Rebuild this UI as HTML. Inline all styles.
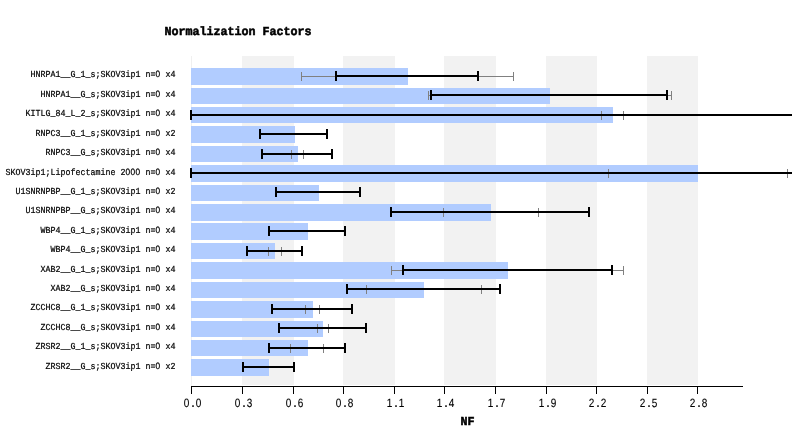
<!DOCTYPE html>
<html><head><meta charset="utf-8"><title>Normalization Factors</title>
<style>
html,body{margin:0;padding:0;background:#fff}
body{width:792px;height:446px;overflow:hidden}
svg{display:block;will-change:transform}
text{text-rendering:geometricPrecision;stroke:#000;stroke-width:0.2px;font-family:"Liberation Mono","DejaVu Sans Mono",monospace;fill:#000;white-space:pre}
.k{font-family:"Liberation Sans","DejaVu Sans",sans-serif;stroke-width:0.1px}
.m{font-family:"Liberation Mono","DejaVu Sans Mono",monospace;font-weight:bold}
.z{font-family:"Liberation Sans","DejaVu Sans",sans-serif}
.t{font-weight:bold;stroke-width:0.55px}
</style></head><body>
<svg width="792" height="446" viewBox="0 0 792 446">
<rect x="0" y="0" width="792" height="446" fill="#fff"/>
<g shape-rendering="crispEdges">
<rect x="242" y="56" width="52" height="329" fill="#f2f2f2"/>
<rect x="343" y="56" width="52" height="329" fill="#f2f2f2"/>
<rect x="444" y="56" width="52" height="329" fill="#f2f2f2"/>
<rect x="546" y="56" width="51" height="329" fill="#f2f2f2"/>
<rect x="647" y="56" width="51" height="329" fill="#f2f2f2"/>
<rect x="191" y="56" width="1" height="330" fill="#f0f0f0"/>
<rect x="191" y="68" width="217" height="17" fill="#b1ccff"/>
<rect x="191" y="88" width="359" height="16" fill="#b1ccff"/>
<rect x="191" y="107" width="422" height="16" fill="#b1ccff"/>
<rect x="191" y="126" width="104" height="17" fill="#b1ccff"/>
<rect x="191" y="146" width="107" height="16" fill="#b1ccff"/>
<rect x="191" y="165" width="507" height="17" fill="#b1ccff"/>
<rect x="191" y="185" width="128" height="16" fill="#b1ccff"/>
<rect x="191" y="204" width="300" height="17" fill="#b1ccff"/>
<rect x="191" y="223" width="117" height="17" fill="#b1ccff"/>
<rect x="191" y="243" width="84" height="16" fill="#b1ccff"/>
<rect x="191" y="262" width="317" height="17" fill="#b1ccff"/>
<rect x="191" y="282" width="233" height="16" fill="#b1ccff"/>
<rect x="191" y="301" width="122" height="17" fill="#b1ccff"/>
<rect x="191" y="321" width="132" height="16" fill="#b1ccff"/>
<rect x="191" y="340" width="117" height="16" fill="#b1ccff"/>
<rect x="191" y="359" width="78" height="17" fill="#b1ccff"/>
<rect x="301" y="76" width="213" height="1" fill="#808080"/><rect x="301" y="72" width="1" height="9" fill="#808080"/><rect x="513" y="72" width="1" height="9" fill="#808080"/>
<rect x="428" y="95" width="244" height="1" fill="#808080"/><rect x="428" y="91" width="1" height="9" fill="#808080"/><rect x="671" y="91" width="1" height="9" fill="#808080"/>
<rect x="601" y="115" width="23" height="1" fill="#808080"/><rect x="601" y="111" width="1" height="9" fill="#808080"/><rect x="623" y="111" width="1" height="9" fill="#808080"/>
<rect x="291" y="154" width="13" height="1" fill="#808080"/><rect x="291" y="150" width="1" height="9" fill="#808080"/><rect x="303" y="150" width="1" height="9" fill="#808080"/>
<rect x="608" y="173" width="180" height="1" fill="#808080"/><rect x="608" y="169" width="1" height="9" fill="#808080"/><rect x="787" y="169" width="1" height="9" fill="#808080"/>
<rect x="443" y="212" width="96" height="1" fill="#808080"/><rect x="443" y="208" width="1" height="9" fill="#808080"/><rect x="538" y="208" width="1" height="9" fill="#808080"/>
<rect x="268" y="251" width="14" height="1" fill="#808080"/><rect x="268" y="247" width="1" height="9" fill="#808080"/><rect x="281" y="247" width="1" height="9" fill="#808080"/>
<rect x="391" y="270" width="233" height="1" fill="#808080"/><rect x="391" y="266" width="1" height="9" fill="#808080"/><rect x="623" y="266" width="1" height="9" fill="#808080"/>
<rect x="366" y="289" width="116" height="1" fill="#808080"/><rect x="366" y="285" width="1" height="9" fill="#808080"/><rect x="481" y="285" width="1" height="9" fill="#808080"/>
<rect x="305" y="309" width="15" height="1" fill="#808080"/><rect x="305" y="305" width="1" height="9" fill="#808080"/><rect x="319" y="305" width="1" height="9" fill="#808080"/>
<rect x="317" y="328" width="12" height="1" fill="#808080"/><rect x="317" y="324" width="1" height="9" fill="#808080"/><rect x="328" y="324" width="1" height="9" fill="#808080"/>
<rect x="290" y="348" width="34" height="1" fill="#808080"/><rect x="290" y="344" width="1" height="9" fill="#808080"/><rect x="323" y="344" width="1" height="9" fill="#808080"/>
<rect x="335" y="75" width="144" height="2" fill="#000"/><rect x="335" y="71" width="2" height="10" fill="#000"/><rect x="477" y="71" width="2" height="10" fill="#000"/>
<rect x="430" y="94" width="238" height="2" fill="#000"/><rect x="430" y="90" width="2" height="10" fill="#000"/><rect x="666" y="90" width="2" height="10" fill="#000"/>
<rect x="190" y="114" width="602" height="2" fill="#000"/><rect x="190" y="110" width="2" height="10" fill="#000"/>
<rect x="259" y="133" width="69" height="2" fill="#000"/><rect x="259" y="129" width="2" height="10" fill="#000"/><rect x="326" y="129" width="2" height="10" fill="#000"/>
<rect x="261" y="153" width="72" height="2" fill="#000"/><rect x="261" y="149" width="2" height="10" fill="#000"/><rect x="331" y="149" width="2" height="10" fill="#000"/>
<rect x="190" y="172" width="602" height="2" fill="#000"/><rect x="190" y="168" width="2" height="10" fill="#000"/>
<rect x="275" y="191" width="86" height="2" fill="#000"/><rect x="275" y="187" width="2" height="10" fill="#000"/><rect x="359" y="187" width="2" height="10" fill="#000"/>
<rect x="390" y="211" width="200" height="2" fill="#000"/><rect x="390" y="207" width="2" height="10" fill="#000"/><rect x="588" y="207" width="2" height="10" fill="#000"/>
<rect x="268" y="230" width="78" height="2" fill="#000"/><rect x="268" y="226" width="2" height="10" fill="#000"/><rect x="344" y="226" width="2" height="10" fill="#000"/>
<rect x="246" y="250" width="57" height="2" fill="#000"/><rect x="246" y="246" width="2" height="10" fill="#000"/><rect x="301" y="246" width="2" height="10" fill="#000"/>
<rect x="402" y="269" width="211" height="2" fill="#000"/><rect x="402" y="265" width="2" height="10" fill="#000"/><rect x="611" y="265" width="2" height="10" fill="#000"/>
<rect x="346" y="288" width="155" height="2" fill="#000"/><rect x="346" y="284" width="2" height="10" fill="#000"/><rect x="499" y="284" width="2" height="10" fill="#000"/>
<rect x="271" y="308" width="82" height="2" fill="#000"/><rect x="271" y="304" width="2" height="10" fill="#000"/><rect x="351" y="304" width="2" height="10" fill="#000"/>
<rect x="278" y="327" width="89" height="2" fill="#000"/><rect x="278" y="323" width="2" height="10" fill="#000"/><rect x="365" y="323" width="2" height="10" fill="#000"/>
<rect x="268" y="347" width="78" height="2" fill="#000"/><rect x="268" y="343" width="2" height="10" fill="#000"/><rect x="344" y="343" width="2" height="10" fill="#000"/>
<rect x="242" y="366" width="53" height="2" fill="#000"/><rect x="242" y="362" width="2" height="10" fill="#000"/><rect x="293" y="362" width="2" height="10" fill="#000"/>
<rect x="191" y="386" width="552" height="1" fill="#000"/>
<rect x="191" y="386" width="1" height="8" fill="#000"/><rect x="242" y="386" width="1" height="8" fill="#000"/><rect x="293" y="386" width="1" height="8" fill="#000"/><rect x="343" y="386" width="1" height="8" fill="#000"/><rect x="394" y="386" width="1" height="8" fill="#000"/><rect x="444" y="386" width="1" height="8" fill="#000"/><rect x="495" y="386" width="1" height="8" fill="#000"/><rect x="546" y="386" width="1" height="8" fill="#000"/><rect x="596" y="386" width="1" height="8" fill="#000"/><rect x="647" y="386" width="1" height="8" fill="#000"/><rect x="697" y="386" width="1" height="8" fill="#000"/>
</g>
<text class="t" transform="translate(164.5,35) scale(0.9722,1.0)" font-size="12">Normalization Factors</text>
<text class="t" transform="translate(460.5,425) scale(0.9722,1.0)" font-size="12">NF</text>
<text class="k" transform="translate(183.5,407) scale(1,1.2)" font-size="10"><tspan x="0.2">0</tspan><tspan class="m" x="6.6">.</tspan><tspan x="12.2">0</tspan></text><text class="k" transform="translate(234.5,407) scale(1,1.2)" font-size="10"><tspan x="0.2">0</tspan><tspan class="m" x="6.6">.</tspan><tspan x="12.2">3</tspan></text><text class="k" transform="translate(285.5,407) scale(1,1.2)" font-size="10"><tspan x="0.2">0</tspan><tspan class="m" x="6.6">.</tspan><tspan x="12.2">6</tspan></text><text class="k" transform="translate(335.5,407) scale(1,1.2)" font-size="10"><tspan x="0.2">0</tspan><tspan class="m" x="6.6">.</tspan><tspan x="12.2">8</tspan></text><text class="k" transform="translate(386.5,407) scale(1,1.2)" font-size="10"><tspan x="0.2">1</tspan><tspan class="m" x="6.6">.</tspan><tspan x="12.2">1</tspan></text><text class="k" transform="translate(436.5,407) scale(1,1.2)" font-size="10"><tspan x="0.2">1</tspan><tspan class="m" x="6.6">.</tspan><tspan x="12.2">4</tspan></text><text class="k" transform="translate(487.5,407) scale(1,1.2)" font-size="10"><tspan x="0.2">1</tspan><tspan class="m" x="6.6">.</tspan><tspan x="12.2">7</tspan></text><text class="k" transform="translate(538.5,407) scale(1,1.2)" font-size="10"><tspan x="0.2">1</tspan><tspan class="m" x="6.6">.</tspan><tspan x="12.2">9</tspan></text><text class="k" transform="translate(588.5,407) scale(1,1.2)" font-size="10"><tspan x="0.2">2</tspan><tspan class="m" x="6.6">.</tspan><tspan x="12.2">2</tspan></text><text class="k" transform="translate(639.5,407) scale(1,1.2)" font-size="10"><tspan x="0.2">2</tspan><tspan class="m" x="6.6">.</tspan><tspan x="12.2">5</tspan></text><text class="k" transform="translate(689.5,407) scale(1,1.2)" font-size="10"><tspan x="0.2">2</tspan><tspan class="m" x="6.6">.</tspan><tspan x="12.2">8</tspan></text>
<text transform="translate(30.5,77) scale(1,1.1)" font-size="8.333" x="0 5 10 15 20 25 30 35 40 45 50 55 60 65 70 75 80 85 90 95 100 105 110 115 120 125 130 135 140">HNRPA1__G_1_s;SKOV3ip1 n=<tspan class="z">0</tspan> x4</text>
<text transform="translate(40.5,97) scale(1,1.1)" font-size="8.333" x="0 5 10 15 20 25 30 35 40 45 50 55 60 65 70 75 80 85 90 95 100 105 110 115 120 125 130">HNRPA1__G_s;SKOV3ip1 n=<tspan class="z">0</tspan> x4</text>
<text transform="translate(25.5,116) scale(1,1.1)" font-size="8.333" x="0 5 10 15 20 25 30 35 40 45 50 55 60 65 70 75 80 85 90 95 100 105 110 115 120 125 130 135 140 145">KITLG_84_L_2_s;SKOV3ip1 n=<tspan class="z">0</tspan> x4</text>
<text transform="translate(35.5,136) scale(1,1.1)" font-size="8.333" x="0 5 10 15 20 25 30 35 40 45 50 55 60 65 70 75 80 85 90 95 100 105 110 115 120 125 130 135">RNPC3__G_1_s;SKOV3ip1 n=<tspan class="z">0</tspan> x2</text>
<text transform="translate(45.5,155) scale(1,1.1)" font-size="8.333" x="0 5 10 15 20 25 30 35 40 45 50 55 60 65 70 75 80 85 90 95 100 105 110 115 120 125">RNPC3__G_s;SKOV3ip1 n=<tspan class="z">0</tspan> x4</text>
<text transform="translate(5.5,175) scale(1,1.1)" font-size="8.333" x="0 5 10 15 20 25 30 35 40 45 50 55 60 65 70 75 80 85 90 95 100 105 110 115 120 125 130 135 140 145 150 155 160 165">SKOV3ip1;Lipofectamine 2<tspan class="z">0</tspan><tspan class="z">0</tspan><tspan class="z">0</tspan> n=<tspan class="z">0</tspan> x4</text>
<text transform="translate(15.5,194) scale(1,1.1)" font-size="8.333" x="0 5 10 15 20 25 30 35 40 45 50 55 60 65 70 75 80 85 90 95 100 105 110 115 120 125 130 135 140 145 150 155">U1SNRNPBP__G_1_s;SKOV3ip1 n=<tspan class="z">0</tspan> x2</text>
<text transform="translate(25.5,213) scale(1,1.1)" font-size="8.333" x="0 5 10 15 20 25 30 35 40 45 50 55 60 65 70 75 80 85 90 95 100 105 110 115 120 125 130 135 140 145">U1SNRNPBP__G_s;SKOV3ip1 n=<tspan class="z">0</tspan> x4</text>
<text transform="translate(40.5,233) scale(1,1.1)" font-size="8.333" x="0 5 10 15 20 25 30 35 40 45 50 55 60 65 70 75 80 85 90 95 100 105 110 115 120 125 130">WBP4__G_1_s;SKOV3ip1 n=<tspan class="z">0</tspan> x4</text>
<text transform="translate(50.5,252) scale(1,1.1)" font-size="8.333" x="0 5 10 15 20 25 30 35 40 45 50 55 60 65 70 75 80 85 90 95 100 105 110 115 120">WBP4__G_s;SKOV3ip1 n=<tspan class="z">0</tspan> x4</text>
<text transform="translate(40.5,272) scale(1,1.1)" font-size="8.333" x="0 5 10 15 20 25 30 35 40 45 50 55 60 65 70 75 80 85 90 95 100 105 110 115 120 125 130">XAB2__G_1_s;SKOV3ip1 n=<tspan class="z">0</tspan> x4</text>
<text transform="translate(50.5,291) scale(1,1.1)" font-size="8.333" x="0 5 10 15 20 25 30 35 40 45 50 55 60 65 70 75 80 85 90 95 100 105 110 115 120">XAB2__G_s;SKOV3ip1 n=<tspan class="z">0</tspan> x4</text>
<text transform="translate(30.5,310) scale(1,1.1)" font-size="8.333" x="0 5 10 15 20 25 30 35 40 45 50 55 60 65 70 75 80 85 90 95 100 105 110 115 120 125 130 135 140">ZCCHC8__G_1_s;SKOV3ip1 n=<tspan class="z">0</tspan> x4</text>
<text transform="translate(40.5,330) scale(1,1.1)" font-size="8.333" x="0 5 10 15 20 25 30 35 40 45 50 55 60 65 70 75 80 85 90 95 100 105 110 115 120 125 130">ZCCHC8__G_s;SKOV3ip1 n=<tspan class="z">0</tspan> x4</text>
<text transform="translate(35.5,349) scale(1,1.1)" font-size="8.333" x="0 5 10 15 20 25 30 35 40 45 50 55 60 65 70 75 80 85 90 95 100 105 110 115 120 125 130 135">ZRSR2__G_1_s;SKOV3ip1 n=<tspan class="z">0</tspan> x4</text>
<text transform="translate(45.5,369) scale(1,1.1)" font-size="8.333" x="0 5 10 15 20 25 30 35 40 45 50 55 60 65 70 75 80 85 90 95 100 105 110 115 120 125">ZRSR2__G_s;SKOV3ip1 n=<tspan class="z">0</tspan> x2</text>
</svg>
</body></html>
